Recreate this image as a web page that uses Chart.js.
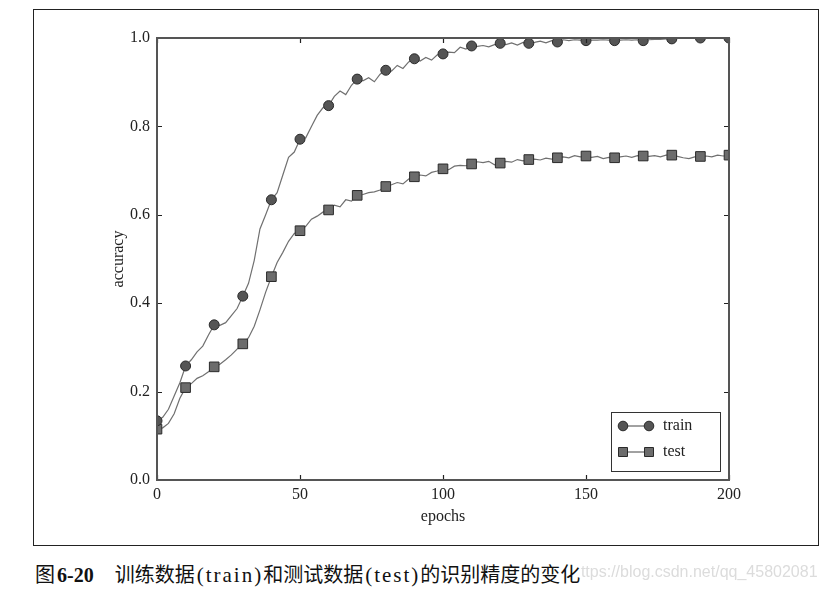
<!DOCTYPE html>
<html>
<head>
<meta charset="utf-8">
<script src="https://cdn.jsdelivr.net/npm/chart.js@4/dist/chart.umd.min.js"></script>
<style>
  html, body { margin: 0; padding: 0; background: #fff; }
  #wrap { position: relative; width: 829px; height: 591px; overflow: hidden; }
  #frame { position: absolute; left: 33px; top: 9px; width: 784px; height: 535px; border: 1px solid #222; }
  #c { position: absolute; left: 0; top: 0; }
  #wm { position: absolute; left: 572px; top: 563px; font: 16px "Liberation Sans", Arial, sans-serif; color: #dcdcdc; white-space: nowrap; }
  #cap { position: absolute; left: 35px; top: 559px; font-size: 20px; color: #111; white-space: nowrap; background: #fff; padding-right: 1px; }
  .cjk { font-family: "Noto Sans CJK SC", sans-serif; font-size: 20px; }
  .lat { font-family: "Liberation Serif", serif; font-size: 21px; letter-spacing: 2px; margin: 0 0 0 2px; }
  .num { font-family: "Liberation Serif", serif; font-weight: bold; font-size: 20px; margin-left: 2px; }
</style>
</head>
<body>
<div id="wrap">
  <div id="frame"></div>
  <canvas id="c" width="829" height="591"></canvas>
  <div id="wm">https://blog.csdn.net/qq_45802081</div>
  <div id="cap"><span class="cjk">图</span><span class="num">6-20</span><span style="display:inline-block;width:21px"></span><span class="cjk">训练数据</span><span class="lat">(train)</span><span class="cjk">和测试数据</span><span class="lat">(test)</span><span class="cjk">的识别精度的变化</span></div>
</div>
<script>
// ---- data ----
const EPOCH_STEP = 2;
const trainAcc = [
  0.134, 0.142, 0.160, 0.190, 0.220, 0.258, 0.272, 0.290, 0.303, 0.328,
  0.351, 0.350, 0.356, 0.372, 0.388, 0.416, 0.445, 0.497, 0.568, 0.600,
  0.634, 0.650, 0.690, 0.730, 0.742, 0.771, 0.774, 0.800, 0.825, 0.842,
  0.847, 0.868, 0.880, 0.872, 0.893, 0.907, 0.903, 0.910, 0.901, 0.918,
  0.927, 0.925, 0.938, 0.931, 0.946, 0.953, 0.948, 0.956, 0.950, 0.962,
  0.964, 0.968, 0.967, 0.979, 0.975, 0.982, 0.981, 0.983, 0.980, 0.985,
  0.988, 0.985, 0.989, 0.984, 0.990, 0.988, 0.990, 0.993, 0.989, 0.994,
  0.991, 0.996, 0.994, 0.996, 0.995, 0.994, 0.995, 0.995, 0.996, 0.995,
  0.994, 0.995, 0.996, 0.995, 0.996, 0.994, 0.996, 0.997, 0.997, 0.998,
  0.998, 0.999, 0.999, 1.000, 0.999, 1.000, 1.000, 1.000, 1.000, 1.000,
  1.000
];
const testAcc = [
  0.115, 0.118, 0.128, 0.150, 0.185, 0.209, 0.218, 0.230, 0.236, 0.245,
  0.256, 0.262, 0.272, 0.283, 0.296, 0.308, 0.322, 0.348, 0.385, 0.425,
  0.460, 0.492, 0.515, 0.540, 0.558, 0.564, 0.574, 0.590, 0.597, 0.606,
  0.611, 0.622, 0.618, 0.634, 0.631, 0.644, 0.646, 0.650, 0.652, 0.656,
  0.664, 0.668, 0.673, 0.670, 0.681, 0.686, 0.690, 0.688, 0.696, 0.699,
  0.704, 0.702, 0.710, 0.712, 0.711, 0.715, 0.720, 0.718, 0.721, 0.713,
  0.717, 0.721, 0.719, 0.725, 0.722, 0.725, 0.726, 0.724, 0.728, 0.726,
  0.729, 0.731, 0.729, 0.734, 0.731, 0.733, 0.730, 0.732, 0.727, 0.730,
  0.729, 0.731, 0.733, 0.730, 0.734, 0.733, 0.732, 0.734, 0.731, 0.735,
  0.735, 0.732, 0.729, 0.727, 0.731, 0.732, 0.733, 0.731, 0.735, 0.733,
  0.735
];
const epochs = trainAcc.map((_, i) => i * EPOCH_STEP);
const MARK_EVERY = 10; // markers every 10 epochs
const xTicks = [0, 50, 100, 150, 200];
const yTicks = [0.0, 0.2, 0.4, 0.6, 0.8, 1.0];
const seriesNames = ['train', 'test'];

const SERIF = '"Liberation Serif", "DejaVu Serif", serif';
const markEvery = (r) => (ctx) => (epochs[ctx.dataIndex] % MARK_EVERY === 0 ? r : 0);

const framePlugin = {
  id: 'frame',
  afterDatasetsDraw(chart) {
    const { ctx, chartArea: a, scales } = chart;
    ctx.save();
    // inside ticks on all four sides
    ctx.strokeStyle = '#222';
    ctx.lineWidth = 1.2;
    const L = 5;
    ctx.beginPath();
    xTicks.forEach(v => {
      const px = Math.round(scales.x.getPixelForValue(v)) + 0.5;
      ctx.moveTo(px, a.bottom); ctx.lineTo(px, a.bottom - L);
      ctx.moveTo(px, a.top); ctx.lineTo(px, a.top + L);
    });
    yTicks.forEach(v => {
      const py = Math.round(scales.y.getPixelForValue(v)) + 0.5;
      ctx.moveTo(a.left, py); ctx.lineTo(a.left + L, py);
      ctx.moveTo(a.right, py); ctx.lineTo(a.right - L, py);
    });
    ctx.stroke();
    // spines
    ctx.strokeStyle = '#555';
    ctx.lineWidth = 2;
    ctx.strokeRect(a.left, a.top, a.right - a.left, a.bottom - a.top);

    // legend (lower right, inside the plot)
    const bw = 109, bh = 59;
    const bx = a.right - 9 - bw, by = a.bottom - 9 - bh;
    ctx.fillStyle = '#fff';
    ctx.fillRect(bx, by, bw, bh);
    ctx.strokeStyle = '#333';
    ctx.lineWidth = 1;
    ctx.strokeRect(bx + 0.5, by + 0.5, bw, bh);
    const rows = [by + 14, by + 40];
    const x1 = bx + 12, x2 = bx + 38;
    chart.data.datasets.forEach((ds, i) => {
      const y = rows[i];
      ctx.strokeStyle = '#444';
      ctx.lineWidth = 1;
      ctx.beginPath(); ctx.moveTo(x1, y); ctx.lineTo(x2, y); ctx.stroke();
      [x1, x2].forEach(x => {
        ctx.fillStyle = ds.pointBackgroundColor;
        ctx.strokeStyle = ds.pointBorderColor;
        ctx.lineWidth = 1;
        ctx.beginPath();
        if (ds.pointStyle === 'rect') ctx.rect(x - 4.5, y - 4.5, 9, 9);
        else ctx.arc(x, y, 4.8, 0, Math.PI * 2);
        ctx.fill(); ctx.stroke();
      });
      ctx.fillStyle = '#222';
      ctx.font = '16px ' + SERIF;
      ctx.textBaseline = 'middle';
      ctx.textAlign = 'left';
      ctx.fillText(ds.label, bx + 52, y);
    });
    ctx.restore();
  }
};

new Chart(document.getElementById('c'), {
  type: 'line',
  data: {
    datasets: [
      {
        label: seriesNames[0],
        data: trainAcc.map((v, i) => ({ x: epochs[i], y: v })),
        borderColor: '#707070', borderWidth: 1.2,
        pointStyle: 'circle', pointRadius: markEvery(5),
        pointBackgroundColor: '#555555', pointBorderColor: '#2a2a2a', pointBorderWidth: 1,
        tension: 0, clip: 0
      },
      {
        label: seriesNames[1],
        data: testAcc.map((v, i) => ({ x: epochs[i], y: v })),
        borderColor: '#707070', borderWidth: 1.2,
        pointStyle: 'rect', pointRadius: markEvery(6.8),
        pointBackgroundColor: '#6c6c6c', pointBorderColor: '#2a2a2a', pointBorderWidth: 1,
        tension: 0, clip: 0
      }
    ]
  },
  options: {
    responsive: false,
    animation: false,
    events: [],
    layout: { padding: { left: 105, right: 100, top: 38, bottom: 61 } },
    plugins: { legend: { display: false }, tooltip: { enabled: false } },
    scales: {
      x: {
        type: 'linear', min: 0, max: 200,
        afterFit: (s) => { s.height = 50; },
        afterBuildTicks: (s) => { s.ticks = xTicks.map(v => ({ value: v })); },
        grid: { display: false, drawTicks: false },
        border: { display: false },
        ticks: { color: '#222', font: { family: SERIF, size: 16 }, padding: 5, maxRotation: 0 },
        title: { display: true, text: 'epochs', color: '#222', font: { family: SERIF, size: 16 }, padding: { top: 2 } }
      },
      y: {
        type: 'linear', min: 0, max: 1,
        afterFit: (s) => { s.width = 52; },
        afterBuildTicks: (s) => { s.ticks = yTicks.map(v => ({ value: v })); },
        grid: { display: false, drawTicks: false },
        border: { display: false },
        ticks: { color: '#222', font: { family: SERIF, size: 16 }, padding: 7, callback: (v) => Number(v).toFixed(1) },
        title: { display: true, text: 'accuracy', color: '#222', font: { family: SERIF, size: 16 }, padding: { bottom: 4 } }
      }
    }
  },
  plugins: [framePlugin]
});
</script>
</body>
</html>
